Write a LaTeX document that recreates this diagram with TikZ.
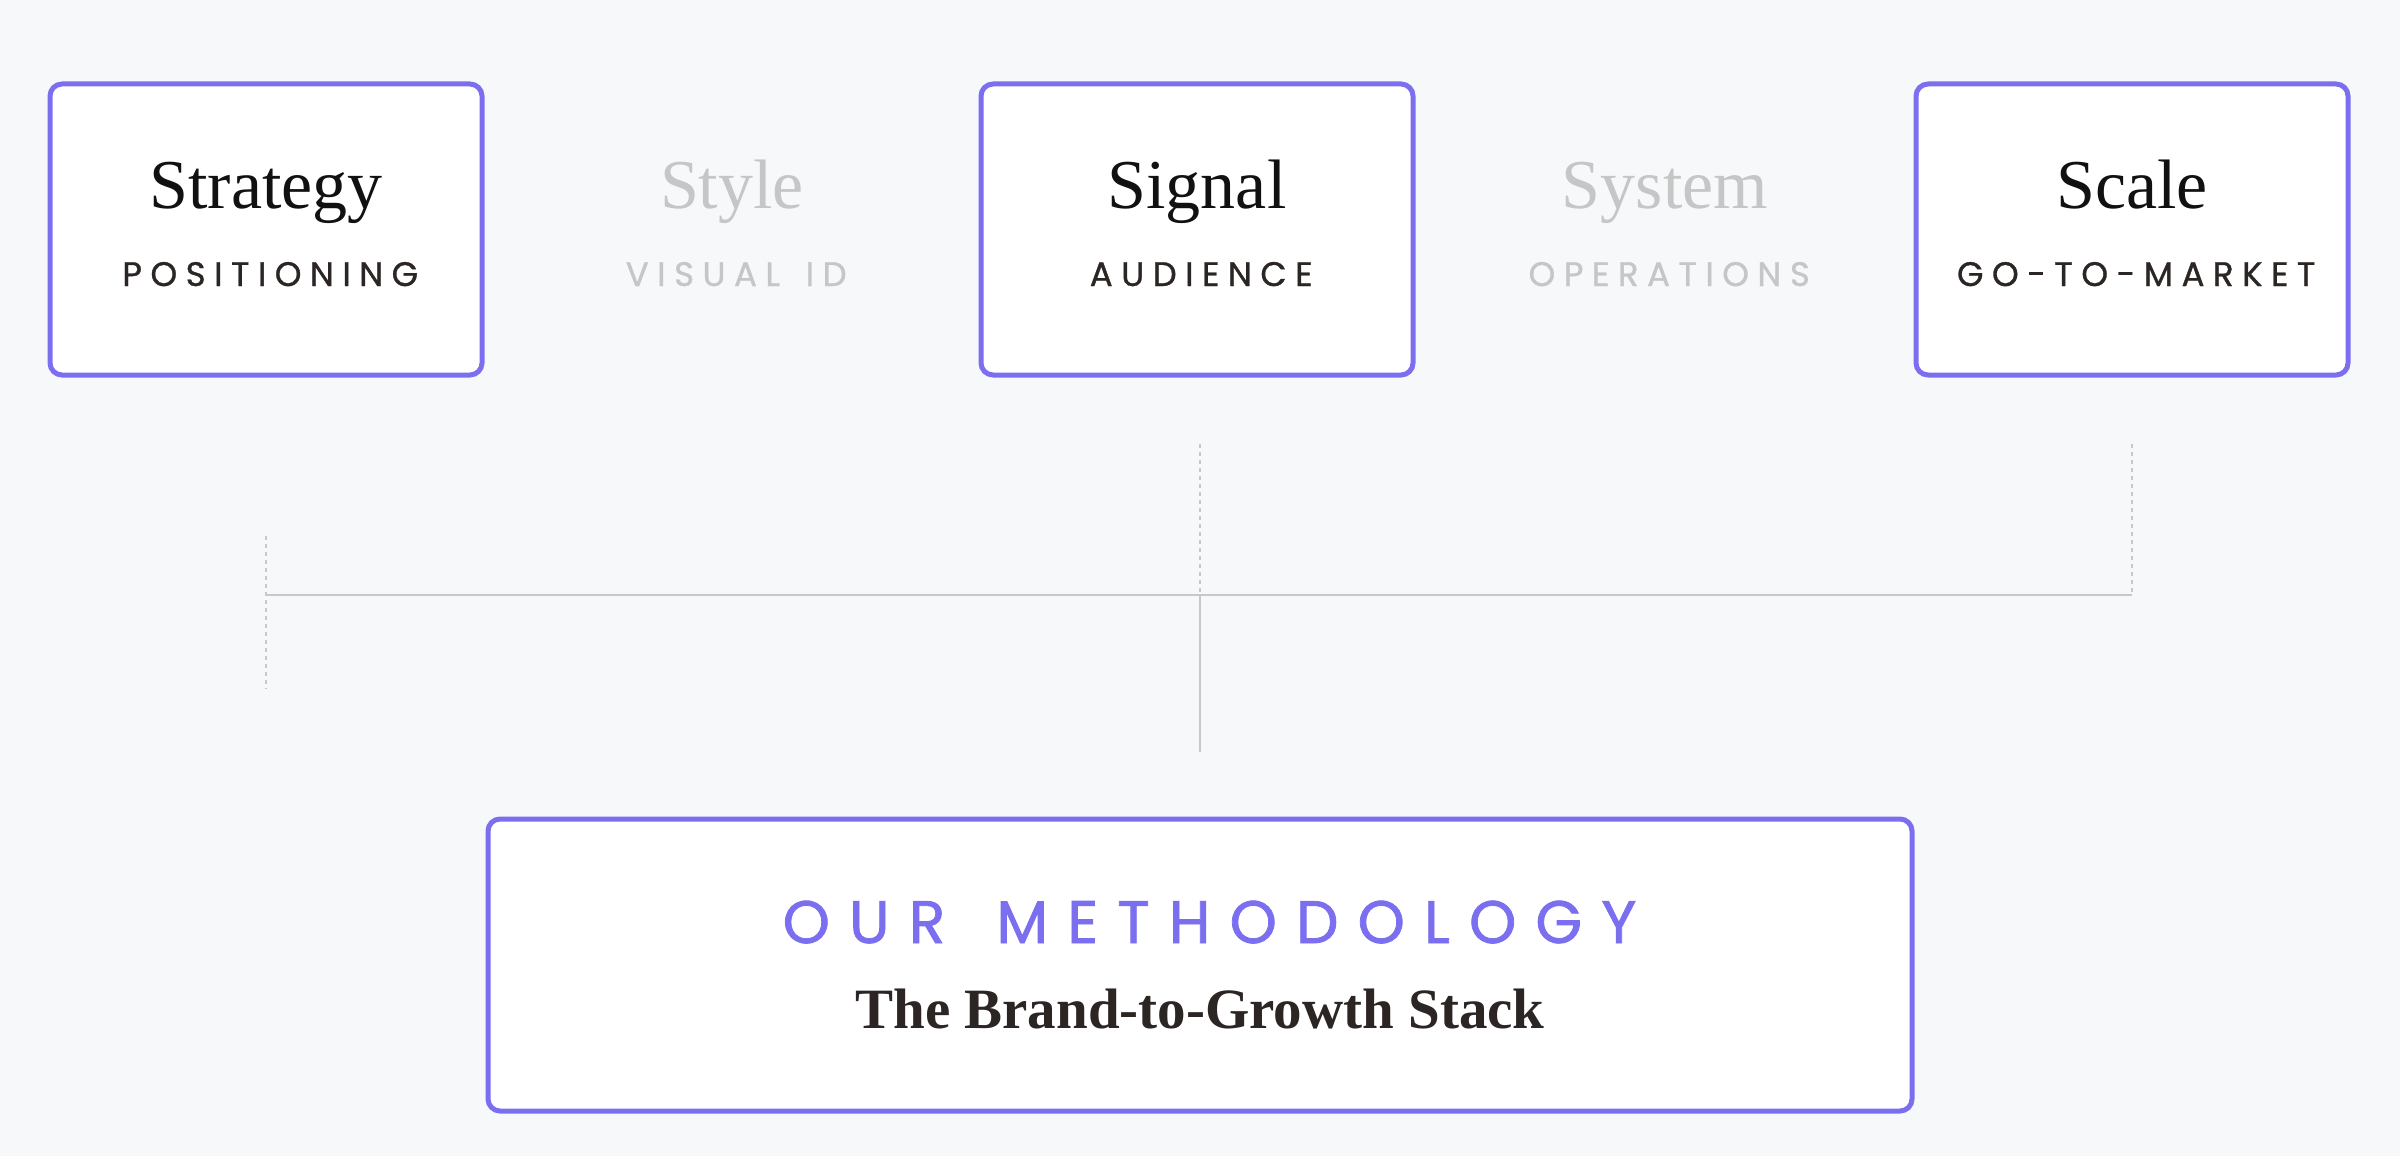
\documentclass[tikz,border=0pt]{standalone}
\usepackage{fontspec}
\setmainfont{Liberation Serif}
\newfontfamily\capsfont[LetterSpace=25,FakeBold=0.9]{Poppins}
\newfontfamily\bigcapsfont[LetterSpace=32,FakeBold=1.3]{Poppins}
\definecolor{bgc}{HTML}{F7F8FA}
\definecolor{purp}{HTML}{7B6FF0}
\definecolor{inkc}{HTML}{111111}
\definecolor{darkc}{HTML}{2B2523}
\definecolor{greyt}{HTML}{C6C6C6}
\definecolor{linec}{HTML}{C8C8C8}
\tikzset{
  card/.style={draw=purp, line width=2.5pt, fill=white, rounded corners=6pt, minimum width=216pt, minimum height=145.5pt, inner sep=0pt},
  bigcard/.style={draw=purp, line width=2.5pt, fill=white, rounded corners=6pt, minimum width=712pt, minimum height=146pt, inner sep=0pt},
  ttl/.style={anchor=base, inner sep=0pt, font=\fontsize{35}{38}\selectfont, text=inkc},
  sub/.style={anchor=base, inner sep=0pt, font=\capsfont\fontsize{17}{20}\selectfont, text=darkc},
  ttlg/.style={ttl, text=greyt},
  subg/.style={sub, text=greyt},
  dashline/.style={draw=linec, line width=0.8pt, dash pattern=on 2pt off 2pt},
  solidline/.style={draw=linec, line width=1pt},
}
\begin{document}
\begin{tikzpicture}[x=0.5pt,y=-0.5pt]
\fill[bgc] (0,0) rectangle (2400,1156);
\useasboundingbox (0,0) rectangle (2400,1156);
% cards
\node[card] (c1) at (266,229.5) {};
\node[card] (c3) at (1197,229.5) {};
\node[card] (c5) at (2132,229.5) {};
\node[ttl] (t1) at (266,208) {Strategy};
\node[sub] (s1) at (266,286) {POSITIONING\kern-4.2pt};
\node[ttlg] (t2) at (732,208) {Style};
\node[subg] (s2) at (732,286) {VISUAL\kern4pt{} ID\kern-4.2pt};
\node[ttl] (t3) at (1197,208) {Signal};
\node[sub] (s3) at (1197,286) {AUDIENCE\kern-4.2pt};
\node[ttlg] (t4) at (1665,208) {System};
\node[subg] (s4) at (1665,286) {OPERATIONS\kern-4.2pt};
\node[ttl] (t5) at (2132,208) {Scale};
\node[sub] (s5) at (2132,286) {GO-TO-MARKET\kern-4.2pt};
% connectors
\coordinate (dl1) at (266,536);
\coordinate (dl2) at (266,689);
\coordinate (hl) at (266,595);
\coordinate (dm1) at (1200,444);
\coordinate (hm) at (1200,595);
\coordinate (dr1) at (2132,444);
\coordinate (hr) at (2132,595);
\coordinate (vb) at (1200,752);
\draw[dashline] (dl1) -- (dl2);
\draw[dashline] (dm1) -- (hm);
\draw[dashline] (dr1) -- (hr);
\draw[solidline] (hl) -- (hr);
\draw[solidline] (hm) -- (vb);
% methodology card
\node[bigcard] (m) at (1200,965) {};
\node[anchor=base, inner sep=0pt, font=\bigcapsfont\fontsize{30}{34}\selectfont, text=purp] (mt) at (1200,943) {OUR\kern8pt{} METHODOLOGY\kern-9.6pt};
\node[anchor=base, inner sep=0pt, font=\bfseries\fontsize{28.5}{32}\selectfont, text=darkc] (ms) at (1200,1028) {The Brand-to-Growth Stack};
\end{tikzpicture}
\end{document}
